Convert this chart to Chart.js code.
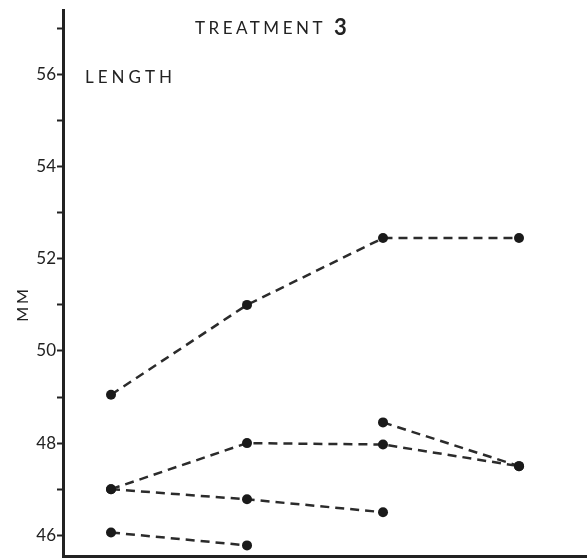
<!DOCTYPE html>
<html>
<head>
<meta charset="utf-8">
<script src="https://cdn.jsdelivr.net/npm/chart.js@4/dist/chart.umd.min.js"></script>
<style>
  html, body { margin: 0; padding: 0; background: #fff; }
  #wrap { width: 587px; height: 560px; }
</style>
</head>
<body>
<div id="wrap"><canvas id="chart"></canvas></div>
<script>
// x positions of the four measurement times
const timePoints = [1, 2, 3, 4];

// length (mm) per group, null where no point was drawn
const groupA = [49.05, 51.0, 52.45, 52.45];
const groupB = [47.0, 48.0, 47.97, 47.5];
const groupC = [47.0, 46.78, 46.5, null];
const groupD = [46.06, 45.78, null, null];
const groupE = [null, null, 48.45, 47.5];

const yTicks = [46, 47, 48, 49, 50, 51, 52, 53, 54, 55, 56, 57];

const INK = '#222';
const FONT = 'Lato, "Open Sans", sans-serif';

function toPoints(values) {
  return values
    .map((v, i) => ({ x: timePoints[i], y: v }))
    .filter(p => p.y !== null);
}

function makeDataset(values) {
  return {
    data: toPoints(values),
    borderColor: '#2b2b2b',
    borderWidth: 2.5,
    borderDash: [9, 6],
    pointRadius: 5,
    pointBackgroundColor: '#1a1a1a',
    pointBorderWidth: 0,
    tension: 0
  };
}

// free text: heading, "LENGTH" and the rotated unit label
const labelsPlugin = {
  id: 'labels',
  afterDraw(chart) {
    const ctx = chart.ctx;
    ctx.save();
    ctx.fillStyle = INK;
    ctx.textBaseline = 'middle';
    ctx.textAlign = 'left';
    ctx.letterSpacing = '3.5px';
    ctx.font = '17px ' + FONT;
    ctx.fillText('TREATMENT', 195, 29);
    ctx.letterSpacing = '0px';
    ctx.font = 'bold 22px ' + FONT;
    ctx.fillText('3', 334, 28);
    ctx.letterSpacing = '4px';
    ctx.font = '17px ' + FONT;
    ctx.fillText('LENGTH', 85, 78);

    ctx.translate(23, 304);
    ctx.rotate(-Math.PI / 2);
    ctx.textAlign = 'center';
    ctx.letterSpacing = '3px';
    ctx.font = '16px ' + FONT;
    ctx.fillText('MM', 0, 0);
    ctx.restore();
  }
};

new Chart(document.getElementById('chart'), {
  type: 'line',
  data: {
    datasets: [groupA, groupB, groupC, groupD, groupE].map(makeDataset)
  },
  options: {
    responsive: true,
    maintainAspectRatio: false,
    animation: false,
    layout: { autoPadding: false, padding: { top: 10, right: 0, bottom: 4, left: 0 } },
    plugins: {
      legend: { display: false },
      tooltip: { enabled: false }
    },
    scales: {
      x: {
        type: 'linear',
        min: 0.647,
        max: 4.5,
        afterFit: (scale) => {
          scale.height = 0;
          scale.paddingLeft = 0;
          scale.paddingRight = 0;
        },
        ticks: { display: false },
        grid: { display: false },
        border: { display: true, color: INK, width: 3 }
      },
      y: {
        type: 'linear',
        position: 'left',
        min: 45.55,
        max: 57.4,
        afterBuildTicks: (axis) => {
          axis.ticks = yTicks.map(v => ({ value: v }));
        },
        afterFit: (scale) => {
          scale.width = 63;
          scale.paddingTop = 0;
          scale.paddingBottom = 0;
        },
        ticks: {
          color: INK,
          padding: 1,
          font: { family: FONT, size: 17 },
          callback: (v) => (v % 2 === 0 ? String(v) : '')
        },
        grid: {
          drawOnChartArea: false,
          drawTicks: true,
          tickLength: 6,
          tickColor: INK,
          tickWidth: 2
        },
        border: { display: true, color: INK, width: 3 }
      }
    }
  },
  plugins: [labelsPlugin]
});
</script>
</body>
</html>
